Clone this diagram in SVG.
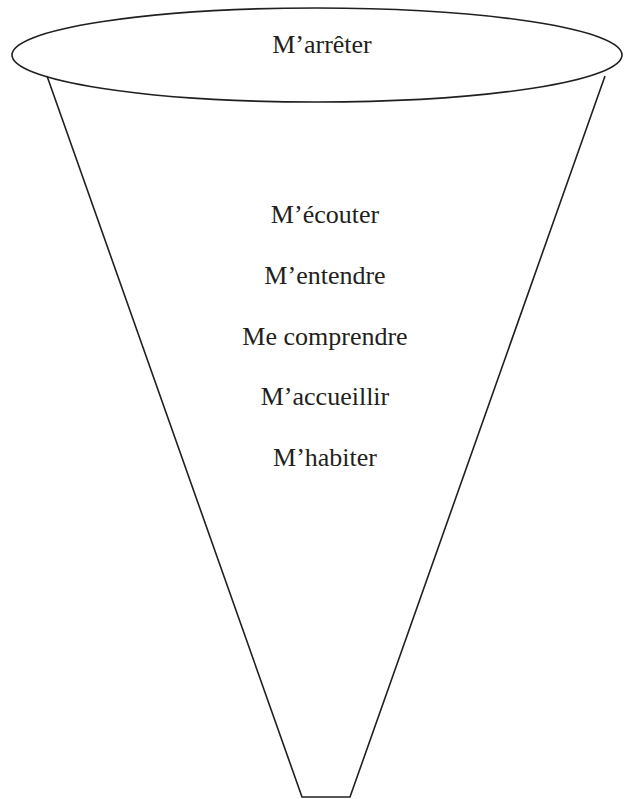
<svg xmlns="http://www.w3.org/2000/svg" width="628" height="799" viewBox="0 0 628 799">
<style>
.s{fill:none;stroke:#231f20;stroke-width:1.6}
.t{font-family:"Liberation Serif","Times New Roman",serif;font-size:26px;fill:#231f20;text-anchor:middle}
</style>
<rect width="628" height="799" fill="#fff"/>
<g id="funnel">
<path class="s" d="M47,76 L302,797 L350,797 L605,76"/>
<ellipse class="s" cx="317" cy="55" rx="305" ry="47" fill="#fff"/>
</g>
<g id="top"><text class="t" x="322" y="53">M’arrêter</text></g>
<g id="items">
<text class="t" x="325" y="223">M’écouter</text>
<text class="t" x="325" y="284">M’entendre</text>
<text class="t" x="325" y="345">Me comprendre</text>
<text class="t" x="325" y="405">M’accueillir</text>
<text class="t" x="325" y="466">M’habiter</text>
</g>
</svg>
